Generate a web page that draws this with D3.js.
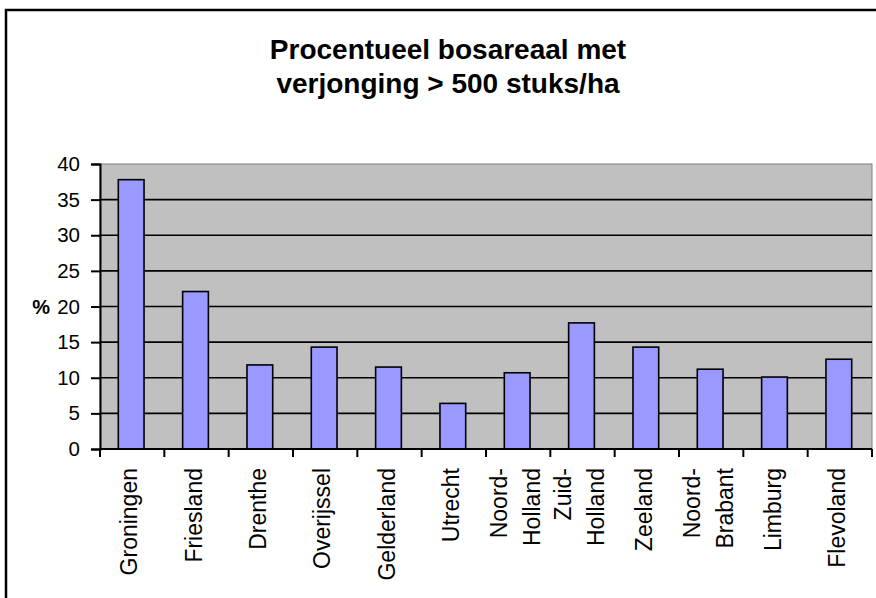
<!DOCTYPE html>
<html>
<head>
<meta charset="utf-8">
<script src="https://cdn.jsdelivr.net/npm/d3@7"></script>
<style>
  body { margin: 0; background: #fff; }
  svg text { font-family: "Liberation Sans", Arial, sans-serif; }
</style>
</head>
<body>
<div id="chart"></div>
<script>
// data
const provinces = ["Groningen", "Friesland", "Drenthe", "Overijssel", "Gelderland", "Utrecht",
  "Noord-Holland", "Zuid-Holland", "Zeeland", "Noord-Brabant", "Limburg", "Flevoland"];
const labelLines = [["Groningen"], ["Friesland"], ["Drenthe"], ["Overijssel"], ["Gelderland"], ["Utrecht"],
  ["Noord-", "Holland"], ["Zuid-", "Holland"], ["Zeeland"], ["Noord-", "Brabant"], ["Limburg"], ["Flevoland"]];
const percent = [37.8, 22.1, 11.8, 14.3, 11.5, 6.4, 10.7, 17.7, 14.3, 11.2, 10.1, 12.6];
const yTicks = [0, 5, 10, 15, 20, 25, 30, 35, 40];
const titleLines = ["Procentueel bosareaal met", "verjonging > 500 stuks/ha"];

const width = 876, height = 598;
const plotL = 100, plotR = 872, plotT = 164, plotB = 449;

const svg = d3.select("#chart").append("svg")
  .attr("width", width)
  .attr("height", height);

// outer chart frame (runs off the right and bottom edge)
svg.append("rect")
  .attr("x", 6).attr("y", 10)
  .attr("width", 1000).attr("height", 1000)
  .attr("fill", "#fff")
  .attr("stroke", "#000")
  .attr("stroke-width", 2.5);

// title
svg.append("g").selectAll("text")
  .data(titleLines)
  .enter().append("text")
  .attr("x", 448)
  .attr("y", (d, i) => 59 + i * 34)
  .attr("text-anchor", "middle")
  .attr("font-size", 28)
  .attr("font-weight", "bold")
  .text(d => d);

const x = d3.scaleBand().domain(provinces).range([plotL, plotR]);
const y = d3.scaleLinear().domain([0, 40]).range([plotB, plotT]);

// plot area
svg.append("rect")
  .attr("x", plotL).attr("y", plotT)
  .attr("width", plotR - plotL).attr("height", plotB - plotT)
  .attr("fill", "#c0c0c0")
  .attr("stroke", "#808080")
  .attr("stroke-width", 1);

// gridlines
svg.append("g").selectAll("line")
  .data(yTicks.filter(d => d > 0 && d < 40))
  .enter().append("line")
  .attr("x1", plotL).attr("x2", plotR)
  .attr("y1", d => y(d)).attr("y2", d => y(d))
  .attr("stroke", "#000")
  .attr("stroke-width", 1.6);

// bars
const barW = x.bandwidth() * 0.4;
svg.append("g").selectAll("rect")
  .data(percent)
  .enter().append("rect")
  .attr("x", (d, i) => x(provinces[i]) + x.bandwidth() / 2 - barW / 2 - 1)
  .attr("y", d => y(d))
  .attr("width", barW)
  .attr("height", d => y(0) - y(d))
  .attr("fill", "#9999ff")
  .attr("stroke", "#000")
  .attr("stroke-width", 1.6);

// y axis
const yAxis = svg.append("g")
  .attr("transform", `translate(${plotL},0)`)
  .call(d3.axisLeft(y).tickValues(yTicks).tickSize(9).tickPadding(11));
yAxis.select(".domain").attr("stroke-width", 2);
yAxis.selectAll(".tick line").attr("stroke-width", 2);
yAxis.selectAll("text")
  .attr("font-size", 20.5)
  .attr("fill", "#000")
  .attr("font-family", "Liberation Sans, Arial, sans-serif");

svg.append("text")
  .attr("x", 50).attr("y", y(20) + 7)
  .attr("text-anchor", "end")
  .attr("font-size", 20)
  .attr("font-weight", "bold")
  .text("%");

// x axis: ticks on the category boundaries
const xAxis = svg.append("g")
  .attr("transform", `translate(0,${plotB})`);
xAxis.append("line")
  .attr("x1", plotL).attr("x2", plotR)
  .attr("stroke", "#000").attr("stroke-width", 2);
xAxis.selectAll(".bt")
  .data(provinces.map(p => x(p)).concat([plotR]))
  .enter().append("line")
  .attr("class", "bt")
  .attr("x1", d => d).attr("x2", d => d)
  .attr("y1", 0).attr("y2", 8)
  .attr("stroke", "#000").attr("stroke-width", 2);

// rotated category labels
const labels = svg.append("g").selectAll("text")
  .data(provinces)
  .enter().append("text")
  .attr("text-anchor", "end")
  .attr("font-size", 23)
  .attr("transform", d => `translate(${x(d) + x.bandwidth() / 2 + 5},468) rotate(-90)`);

labels.each(function (d, i) {
  const lines = labelLines[i];
  const off = (lines.length - 1) * 16.5;
  d3.select(this).selectAll("tspan")
    .data(lines)
    .enter().append("tspan")
    .attr("x", 0)
    .attr("y", (l, j) => j * 33 - off)
    .text(l => l);
});
</script>
</body>
</html>
